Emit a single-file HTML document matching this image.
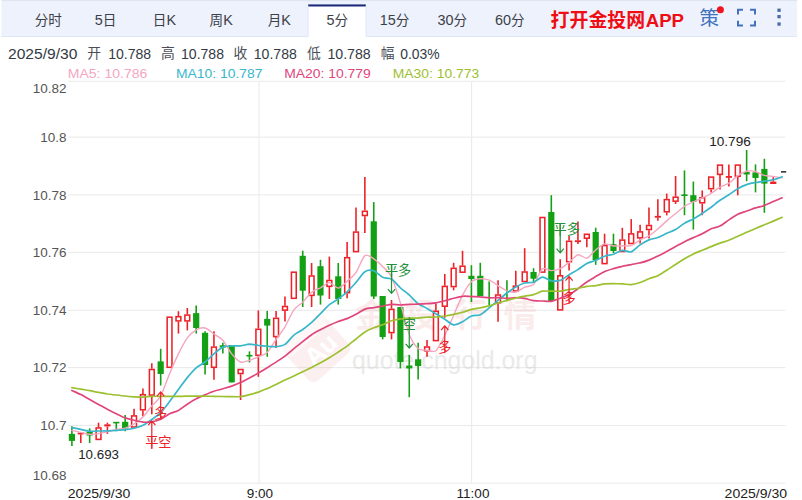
<!DOCTYPE html>
<html lang="zh"><head><meta charset="utf-8"><title>5分 K线</title>
<style>
html,body{margin:0;padding:0;background:#fff;}
body{width:802px;height:500px;overflow:hidden;font-family:"Liberation Sans","Noto Sans CJK SC",sans-serif;}
svg{display:block;font-family:"Liberation Sans","Noto Sans CJK SC",sans-serif;}
</style></head><body>
<svg role="img" aria-label="5分 K线图 MA5 MA10 MA20 MA30" width="802" height="500" viewBox="0 0 802 500">
<rect width="802" height="500" fill="#fff"/>
<rect x="1.4" y="0" width="795.8" height="36.6" fill="#edf2fc"/>
<rect x="1.4" y="0" width="795.8" height="1.1" fill="#dfe5f1"/>
<rect x="1.4" y="36.0" width="795.8" height="0.9" fill="#dde5f3"/>
<rect x="308.2" y="4.6" width="57.6" height="33" fill="#ffffff"/>
<rect x="308.2" y="4.4" width="57.6" height="2.1" fill="#1c2b7c"/>
<rect x="307.8" y="6.4" width="0.8" height="30" fill="#dde5f2"/><rect x="365.6" y="6.4" width="0.8" height="30" fill="#dde5f2"/>
<text x="34.70" y="25.40" font-size="13.6" fill="#3d4047" text-anchor="start" font-weight="normal">分时</text>
<text x="94.79" y="25.40" font-size="14.416" fill="#3d4047" text-anchor="start" font-weight="normal">5</text>
<text x="102.81" y="25.40" font-size="13.6" fill="#3d4047" text-anchor="start" font-weight="normal">日</text>
<text x="152.79" y="25.40" font-size="13.6" fill="#3d4047" text-anchor="start" font-weight="normal">日</text>
<text x="166.39" y="25.40" font-size="14.416" fill="#3d4047" text-anchor="start" font-weight="normal">K</text>
<text x="209.59" y="25.40" font-size="13.6" fill="#3d4047" text-anchor="start" font-weight="normal">周</text>
<text x="223.19" y="25.40" font-size="14.416" fill="#3d4047" text-anchor="start" font-weight="normal">K</text>
<text x="267.69" y="25.40" font-size="13.6" fill="#3d4047" text-anchor="start" font-weight="normal">月</text>
<text x="281.29" y="25.40" font-size="14.416" fill="#3d4047" text-anchor="start" font-weight="normal">K</text>
<text x="326.59" y="25.40" font-size="14.416" fill="#3d4047" text-anchor="start" font-weight="normal">5</text>
<text x="334.61" y="25.40" font-size="13.6" fill="#3d4047" text-anchor="start" font-weight="normal">分</text>
<text x="379.78" y="25.40" font-size="14.416" fill="#3d4047" text-anchor="start" font-weight="normal">15</text>
<text x="395.82" y="25.40" font-size="13.6" fill="#3d4047" text-anchor="start" font-weight="normal">分</text>
<text x="437.58" y="25.40" font-size="14.416" fill="#3d4047" text-anchor="start" font-weight="normal">30</text>
<text x="453.62" y="25.40" font-size="13.6" fill="#3d4047" text-anchor="start" font-weight="normal">分</text>
<text x="494.98" y="25.40" font-size="14.416" fill="#3d4047" text-anchor="start" font-weight="normal">60</text>
<text x="511.02" y="25.40" font-size="13.6" fill="#3d4047" text-anchor="start" font-weight="normal">分</text>
<text x="550.60" y="26.60" font-size="18.9" fill="#f00d14" text-anchor="start" font-weight="bold">打开金投网</text>
<text x="645.80" y="26.60" font-size="18.6" fill="#f00d14" text-anchor="start" font-weight="bold" textLength="38.2" lengthAdjust="spacingAndGlyphs">APP</text>
<text x="699.60" y="25.40" font-size="19.6" fill="#3f72c0" text-anchor="start" font-weight="normal">策</text>
<circle cx="720.4" cy="9.8" r="3.5" fill="#f0141e"/>
<path d="M738 14.6V9.8H743 M750 9.8H755V14.6 M755 20.8V25.6H750 M743 25.6H738V20.8" fill="none" stroke="#4470bd" stroke-width="2"/>
<rect x="777.4" y="8.6" width="3.3" height="3.3" fill="#4b6aa6"/>
<rect x="777.4" y="15.000000000000002" width="3.3" height="3.3" fill="#4b6aa6"/>
<rect x="777.4" y="22.4" width="3.3" height="3.3" fill="#4b6aa6"/>
<text x="8.00" y="58.80" font-size="14" fill="#333a44" text-anchor="start" font-weight="normal" textLength="69.4" lengthAdjust="spacingAndGlyphs">2025/9/30</text>
<text x="87.30" y="58.30" font-size="13.8" fill="#4a4f58" text-anchor="start" font-weight="normal">开</text>
<text x="108.20" y="58.80" font-size="14" fill="#333a44" text-anchor="start" font-weight="normal" textLength="43.0" lengthAdjust="spacingAndGlyphs">10.788</text>
<text x="160.90" y="58.30" font-size="13.8" fill="#4a4f58" text-anchor="start" font-weight="normal">高</text>
<text x="181.00" y="58.80" font-size="14" fill="#333a44" text-anchor="start" font-weight="normal" textLength="43.0" lengthAdjust="spacingAndGlyphs">10.788</text>
<text x="233.50" y="58.30" font-size="13.8" fill="#4a4f58" text-anchor="start" font-weight="normal">收</text>
<text x="253.80" y="58.80" font-size="14" fill="#333a44" text-anchor="start" font-weight="normal" textLength="43.0" lengthAdjust="spacingAndGlyphs">10.788</text>
<text x="307.10" y="58.30" font-size="13.8" fill="#4a4f58" text-anchor="start" font-weight="normal">低</text>
<text x="327.40" y="58.80" font-size="14" fill="#333a44" text-anchor="start" font-weight="normal" textLength="43.3" lengthAdjust="spacingAndGlyphs">10.788</text>
<text x="380.70" y="58.30" font-size="13.8" fill="#4a4f58" text-anchor="start" font-weight="normal">幅</text>
<text x="400.20" y="58.80" font-size="14" fill="#333a44" text-anchor="start" font-weight="normal" textLength="39.4" lengthAdjust="spacingAndGlyphs">0.03%</text>
<text x="67.80" y="77.80" font-size="13.7" fill="#f4a6c1" text-anchor="start" font-weight="normal" textLength="79.5" lengthAdjust="spacingAndGlyphs">MA5: 10.786</text>
<text x="176.00" y="77.80" font-size="13.7" fill="#38b7cb" text-anchor="start" font-weight="normal" textLength="86.4" lengthAdjust="spacingAndGlyphs">MA10: 10.787</text>
<text x="284.20" y="77.80" font-size="13.7" fill="#e0467c" text-anchor="start" font-weight="normal" textLength="86.6" lengthAdjust="spacingAndGlyphs">MA20: 10.779</text>
<text x="392.80" y="77.80" font-size="13.7" fill="#9cc02f" text-anchor="start" font-weight="normal" textLength="86.4" lengthAdjust="spacingAndGlyphs">MA30: 10.773</text>
<rect x="68.0" y="80.75" width="717.5" height="1.1" fill="#ebebeb"/>
<rect x="68.0" y="136.55" width="717.5" height="1.1" fill="#ebebeb"/>
<rect x="68.0" y="194.35" width="717.5" height="1.1" fill="#ebebeb"/>
<rect x="68.0" y="251.75" width="717.5" height="1.1" fill="#ebebeb"/>
<rect x="68.0" y="309.75" width="717.5" height="1.1" fill="#ebebeb"/>
<rect x="68.0" y="367.05" width="717.5" height="1.1" fill="#ebebeb"/>
<rect x="68.0" y="424.95" width="717.5" height="1.1" fill="#ebebeb"/>
<rect x="68.0" y="482.65" width="717.5" height="1.1" fill="#ebebeb"/>
<rect x="258.45" y="81.3" width="1.1" height="402" fill="#ebebeb"/>
<rect x="471.05" y="81.3" width="1.1" height="402" fill="#ebebeb"/>
<text x="66.60" y="93.30" font-size="13.5" fill="#555555" text-anchor="end" font-weight="normal">10.82</text>
<text x="66.60" y="141.80" font-size="13.5" fill="#555555" text-anchor="end" font-weight="normal">10.8</text>
<text x="66.60" y="199.60" font-size="13.5" fill="#555555" text-anchor="end" font-weight="normal">10.78</text>
<text x="66.60" y="257.00" font-size="13.5" fill="#555555" text-anchor="end" font-weight="normal">10.76</text>
<text x="66.60" y="315.00" font-size="13.5" fill="#555555" text-anchor="end" font-weight="normal">10.74</text>
<text x="66.60" y="372.30" font-size="13.5" fill="#555555" text-anchor="end" font-weight="normal">10.72</text>
<text x="66.60" y="430.20" font-size="13.5" fill="#555555" text-anchor="end" font-weight="normal">10.7</text>
<text x="66.60" y="480.10" font-size="13.5" fill="#555555" text-anchor="end" font-weight="normal">10.68</text>
<text x="67.80" y="498.00" font-size="13.5" fill="#222222" text-anchor="start" font-weight="normal" textLength="62.5" lengthAdjust="spacingAndGlyphs">2025/9/30</text>
<text x="259.80" y="498.00" font-size="13.5" fill="#222222" text-anchor="middle" font-weight="normal">9:00</text>
<text x="473.00" y="498.00" font-size="13.5" fill="#222222" text-anchor="middle" font-weight="normal">11:00</text>
<text x="724.60" y="498.00" font-size="13.5" fill="#222222" text-anchor="start" font-weight="normal" textLength="62.5" lengthAdjust="spacingAndGlyphs">2025/9/30</text>
<g opacity="0.135" transform="translate(317,349) rotate(-42)"><rect x="-27" y="-24" width="54" height="48" rx="7" fill="#e79090"/><rect x="-27" y="-24" width="54" height="13" rx="6" fill="#f6caca"/><text x="-15" y="12" font-size="26" font-weight="bold" fill="#fff">Au</text></g>
<text x="355.00" y="326.60" font-size="33" fill="#f0a8a8" opacity="0.21" text-anchor="start" font-weight="bold">金</text>
<text x="404.60" y="326.60" font-size="33" fill="#f0a8a8" opacity="0.21" text-anchor="start" font-weight="bold">投</text>
<text x="454.20" y="326.60" font-size="33" fill="#f0a8a8" opacity="0.21" text-anchor="start" font-weight="bold">行</text>
<text x="503.80" y="326.60" font-size="33" fill="#f0a8a8" opacity="0.21" text-anchor="start" font-weight="bold">情</text>
<text x="352.00" y="369.00" font-size="25" fill="#cfcfcf" text-anchor="start" font-weight="normal" textLength="185.5" lengthAdjust="spacingAndGlyphs" opacity="0.43">quote.cngold.org</text>
<g><path d="M71.90 426.2V445.9" stroke="#14a014" stroke-width="1.6"/><rect x="68.80" y="433.9" width="6.2" height="7.0" fill="#14a014"/><path d="M80.78 434.3V443.0" stroke="#ec2228" stroke-width="1.6"/><rect x="77.68" y="432.6" width="6.2" height="1.8" fill="#ec2228"/><path d="M89.66 428.4V443.0" stroke="#14a014" stroke-width="1.6"/><rect x="86.56" y="431.8" width="6.2" height="3.7" fill="#14a014"/><path d="M98.53 422.7V427.2" stroke="#ec2228" stroke-width="1.6"/><rect x="96.13" y="427.9" width="4.8" height="11.5" fill="#fff" stroke="#ec2228" stroke-width="1.55"/><path d="M107.41 422.7V424.3" stroke="#ec2228" stroke-width="1.6"/><path d="M107.41 426.4V433.9" stroke="#ec2228" stroke-width="1.6"/><rect x="104.31" y="424.3" width="6.2" height="2.1" fill="#ec2228"/><path d="M116.29 422.2V431.2" stroke="#14a014" stroke-width="1.6"/><rect x="113.19" y="421.8" width="6.2" height="1.6" fill="#14a014"/><path d="M125.17 415.0V431.2" stroke="#14a014" stroke-width="1.6"/><rect x="122.07" y="421.8" width="6.2" height="6.6" fill="#14a014"/><path d="M134.05 408.8V415.2" stroke="#ec2228" stroke-width="1.6"/><rect x="131.65" y="415.9" width="4.8" height="11.1" fill="#fff" stroke="#ec2228" stroke-width="1.55"/><path d="M142.92 388.6V394.0" stroke="#ec2228" stroke-width="1.6"/><path d="M142.92 410.5V416.3" stroke="#ec2228" stroke-width="1.6"/><rect x="140.52" y="394.7" width="4.8" height="15.1" fill="#fff" stroke="#ec2228" stroke-width="1.55"/><path d="M151.80 363.2V368.8" stroke="#ec2228" stroke-width="1.6"/><path d="M151.80 395.8V414.2" stroke="#ec2228" stroke-width="1.6"/><rect x="149.40" y="369.5" width="4.8" height="25.6" fill="#fff" stroke="#ec2228" stroke-width="1.55"/><path d="M160.68 348.8V385.5" stroke="#14a014" stroke-width="1.6"/><rect x="157.58" y="361.4" width="6.2" height="12.6" fill="#14a014"/><rect x="167.16" y="317.2" width="4.8" height="50.1" fill="#fff" stroke="#ec2228" stroke-width="1.55"/><path d="M178.44 311.2V316.0" stroke="#ec2228" stroke-width="1.6"/><path d="M178.44 321.6V333.6" stroke="#ec2228" stroke-width="1.6"/><rect x="176.04" y="316.7" width="4.8" height="4.2" fill="#fff" stroke="#ec2228" stroke-width="1.55"/><path d="M187.31 308.0V314.4" stroke="#ec2228" stroke-width="1.6"/><path d="M187.31 321.6V330.4" stroke="#ec2228" stroke-width="1.6"/><rect x="184.91" y="315.1" width="4.8" height="5.8" fill="#fff" stroke="#ec2228" stroke-width="1.55"/><path d="M196.19 305.6V333.6" stroke="#14a014" stroke-width="1.6"/><rect x="193.09" y="313.1" width="6.2" height="14.9" fill="#14a014"/><path d="M205.07 331.2V374.4" stroke="#14a014" stroke-width="1.6"/><rect x="201.97" y="332.8" width="6.2" height="32.2" fill="#14a014"/><path d="M213.95 331.2V346.4" stroke="#ec2228" stroke-width="1.6"/><path d="M213.95 368.0V379.7" stroke="#ec2228" stroke-width="1.6"/><rect x="211.55" y="347.1" width="4.8" height="20.2" fill="#fff" stroke="#ec2228" stroke-width="1.55"/><path d="M222.83 342.8V353.6" stroke="#14a014" stroke-width="1.6"/><rect x="219.73" y="345.3" width="6.2" height="2.2" fill="#14a014"/><path d="M231.70 345.0V382.4" stroke="#14a014" stroke-width="1.6"/><rect x="228.60" y="345.0" width="6.2" height="37.4" fill="#14a014"/><path d="M240.58 374.2V400.0" stroke="#ec2228" stroke-width="1.6"/><rect x="238.18" y="369.5" width="4.8" height="4.0" fill="#fff" stroke="#ec2228" stroke-width="1.55"/><path d="M249.46 351.4V362.4" stroke="#14a014" stroke-width="1.6"/><rect x="246.36" y="354.9" width="6.2" height="1.6" fill="#14a014"/><path d="M258.34 310.4V328.6" stroke="#ec2228" stroke-width="1.6"/><path d="M258.34 356.0V376.8" stroke="#ec2228" stroke-width="1.6"/><rect x="255.94" y="329.3" width="4.8" height="26.0" fill="#fff" stroke="#ec2228" stroke-width="1.55"/><path d="M267.22 310.9V356.8" stroke="#14a014" stroke-width="1.6"/><rect x="264.12" y="318.9" width="6.2" height="6.7" fill="#14a014"/><path d="M276.09 310.9V317.6" stroke="#ec2228" stroke-width="1.6"/><path d="M276.09 337.3V348.0" stroke="#ec2228" stroke-width="1.6"/><rect x="273.69" y="318.3" width="4.8" height="18.3" fill="#fff" stroke="#ec2228" stroke-width="1.55"/><path d="M284.97 296.6V305.8" stroke="#ec2228" stroke-width="1.6"/><path d="M284.97 310.8V321.6" stroke="#ec2228" stroke-width="1.6"/><rect x="282.57" y="306.5" width="4.8" height="3.6" fill="#fff" stroke="#ec2228" stroke-width="1.55"/><rect x="291.45" y="272.2" width="4.8" height="26.1" fill="#fff" stroke="#ec2228" stroke-width="1.55"/><path d="M302.73 250.7V307.0" stroke="#14a014" stroke-width="1.6"/><rect x="299.63" y="255.8" width="6.2" height="34.9" fill="#14a014"/><path d="M311.61 263.0V275.3" stroke="#ec2228" stroke-width="1.6"/><path d="M311.61 296.1V307.0" stroke="#ec2228" stroke-width="1.6"/><rect x="309.21" y="276.0" width="4.8" height="19.4" fill="#fff" stroke="#ec2228" stroke-width="1.55"/><path d="M320.48 259.8V304.6" stroke="#14a014" stroke-width="1.6"/><rect x="317.38" y="266.2" width="6.2" height="29.3" fill="#14a014"/><path d="M329.36 256.6V279.8" stroke="#ec2228" stroke-width="1.6"/><path d="M329.36 287.0V299.0" stroke="#ec2228" stroke-width="1.6"/><rect x="326.96" y="280.5" width="4.8" height="5.8" fill="#fff" stroke="#ec2228" stroke-width="1.55"/><path d="M338.24 263.0V304.6" stroke="#14a014" stroke-width="1.6"/><rect x="335.14" y="276.3" width="6.2" height="22.7" fill="#14a014"/><path d="M347.12 242.0V257.0" stroke="#ec2228" stroke-width="1.6"/><path d="M347.12 293.4V298.2" stroke="#ec2228" stroke-width="1.6"/><rect x="344.72" y="257.7" width="4.8" height="35.0" fill="#fff" stroke="#ec2228" stroke-width="1.55"/><path d="M356.00 207.4V231.4" stroke="#ec2228" stroke-width="1.6"/><rect x="353.60" y="232.1" width="4.8" height="19.5" fill="#fff" stroke="#ec2228" stroke-width="1.55"/><path d="M364.87 177.0V210.6" stroke="#ec2228" stroke-width="1.6"/><path d="M364.87 216.2V233.0" stroke="#ec2228" stroke-width="1.6"/><rect x="362.47" y="211.3" width="4.8" height="4.2" fill="#fff" stroke="#ec2228" stroke-width="1.55"/><path d="M373.75 202.1V299.0" stroke="#14a014" stroke-width="1.6"/><rect x="370.65" y="221.3" width="6.2" height="75.2" fill="#14a014"/><path d="M382.63 296.0V339.4" stroke="#14a014" stroke-width="1.6"/><rect x="379.53" y="296.0" width="6.2" height="41.0" fill="#14a014"/><path d="M391.51 300.0V308.7" stroke="#ec2228" stroke-width="1.6"/><path d="M391.51 333.3V339.4" stroke="#ec2228" stroke-width="1.6"/><rect x="389.11" y="309.4" width="4.8" height="23.2" fill="#fff" stroke="#ec2228" stroke-width="1.55"/><path d="M400.39 307.0V368.4" stroke="#14a014" stroke-width="1.6"/><rect x="397.29" y="307.0" width="6.2" height="55.0" fill="#14a014"/><path d="M409.26 354.8V397.2" stroke="#14a014" stroke-width="1.6"/><rect x="406.16" y="365.5" width="6.2" height="2.9" fill="#14a014"/><path d="M418.14 342.7V379.6" stroke="#14a014" stroke-width="1.6"/><rect x="415.04" y="359.3" width="6.2" height="6.7" fill="#14a014"/><path d="M427.02 340.1V346.3" stroke="#ec2228" stroke-width="1.6"/><path d="M427.02 351.5V356.7" stroke="#ec2228" stroke-width="1.6"/><rect x="424.62" y="347.0" width="4.8" height="3.8" fill="#fff" stroke="#ec2228" stroke-width="1.55"/><path d="M435.90 303.4V310.6" stroke="#ec2228" stroke-width="1.6"/><rect x="433.50" y="311.3" width="4.8" height="29.3" fill="#fff" stroke="#ec2228" stroke-width="1.55"/><path d="M444.78 274.0V285.7" stroke="#ec2228" stroke-width="1.6"/><path d="M444.78 306.9V317.8" stroke="#ec2228" stroke-width="1.6"/><rect x="442.38" y="286.4" width="4.8" height="19.8" fill="#fff" stroke="#ec2228" stroke-width="1.55"/><path d="M453.65 262.8V267.6" stroke="#ec2228" stroke-width="1.6"/><path d="M453.65 287.3V290.3" stroke="#ec2228" stroke-width="1.6"/><rect x="451.25" y="268.3" width="4.8" height="18.3" fill="#fff" stroke="#ec2228" stroke-width="1.55"/><path d="M462.53 250.8V265.5" stroke="#ec2228" stroke-width="1.6"/><rect x="460.13" y="266.2" width="4.8" height="6.0" fill="#fff" stroke="#ec2228" stroke-width="1.55"/><path d="M471.41 265.2V302.0" stroke="#14a014" stroke-width="1.6"/><rect x="468.31" y="275.8" width="6.2" height="3.2" fill="#14a014"/><path d="M480.29 262.8V296.0" stroke="#14a014" stroke-width="1.6"/><rect x="477.19" y="275.8" width="6.2" height="20.2" fill="#14a014"/><path d="M489.17 281.5V305.0" stroke="#14a014" stroke-width="1.6"/><path d="M498.04 280.2V294.3" stroke="#ec2228" stroke-width="1.6"/><path d="M498.04 303.5V321.7" stroke="#ec2228" stroke-width="1.6"/><rect x="495.64" y="295.0" width="4.8" height="7.8" fill="#fff" stroke="#ec2228" stroke-width="1.55"/><path d="M506.92 280.2V301.2" stroke="#14a014" stroke-width="1.6"/><path d="M515.80 270.8V285.4" stroke="#ec2228" stroke-width="1.6"/><rect x="513.40" y="286.1" width="4.8" height="4.9" fill="#fff" stroke="#ec2228" stroke-width="1.55"/><path d="M524.68 248.2V271.3" stroke="#ec2228" stroke-width="1.6"/><rect x="522.28" y="272.0" width="4.8" height="9.5" fill="#fff" stroke="#ec2228" stroke-width="1.55"/><path d="M533.56 268.2V282.6" stroke="#14a014" stroke-width="1.6"/><rect x="530.46" y="272.0" width="6.2" height="6.7" fill="#14a014"/><rect x="540.03" y="217.5" width="4.8" height="54.6" fill="#fff" stroke="#ec2228" stroke-width="1.55"/><path d="M551.31 195.2V301.0" stroke="#14a014" stroke-width="1.6"/><rect x="548.21" y="212.0" width="6.2" height="89.0" fill="#14a014"/><path d="M560.19 259.2V275.1" stroke="#ec2228" stroke-width="1.6"/><rect x="557.79" y="275.8" width="4.8" height="34.1" fill="#fff" stroke="#ec2228" stroke-width="1.55"/><path d="M569.07 236.0V240.6" stroke="#ec2228" stroke-width="1.6"/><path d="M569.07 262.4V270.4" stroke="#ec2228" stroke-width="1.6"/><rect x="566.67" y="241.3" width="4.8" height="20.4" fill="#fff" stroke="#ec2228" stroke-width="1.55"/><path d="M577.95 221.6V240.5" stroke="#ec2228" stroke-width="1.6"/><path d="M577.95 242.0V244.0" stroke="#ec2228" stroke-width="1.6"/><rect x="574.85" y="240.3" width="6.2" height="1.8" fill="#ec2228"/><path d="M586.82 238.9V247.2" stroke="#ec2228" stroke-width="1.6"/><rect x="584.42" y="234.3" width="4.8" height="3.9" fill="#fff" stroke="#ec2228" stroke-width="1.55"/><path d="M595.70 227.7V264.8" stroke="#14a014" stroke-width="1.6"/><rect x="592.60" y="232.0" width="6.2" height="28.0" fill="#14a014"/><path d="M604.58 233.7V244.8" stroke="#ec2228" stroke-width="1.6"/><rect x="602.18" y="245.5" width="4.8" height="18.1" fill="#fff" stroke="#ec2228" stroke-width="1.55"/><path d="M613.46 233.7V253.0" stroke="#14a014" stroke-width="1.6"/><rect x="610.36" y="244.2" width="6.2" height="6.8" fill="#14a014"/><path d="M622.34 227.8V239.4" stroke="#ec2228" stroke-width="1.6"/><rect x="619.94" y="240.1" width="4.8" height="11.4" fill="#fff" stroke="#ec2228" stroke-width="1.55"/><path d="M631.21 219.1V233.2" stroke="#ec2228" stroke-width="1.6"/><rect x="628.81" y="233.9" width="4.8" height="9.6" fill="#fff" stroke="#ec2228" stroke-width="1.55"/><path d="M640.09 224.8V231.2" stroke="#ec2228" stroke-width="1.6"/><path d="M640.09 238.6V243.6" stroke="#ec2228" stroke-width="1.6"/><rect x="637.69" y="231.9" width="4.8" height="6.0" fill="#fff" stroke="#ec2228" stroke-width="1.55"/><path d="M648.97 207.4V224.8" stroke="#ec2228" stroke-width="1.6"/><path d="M648.97 230.2V238.6" stroke="#ec2228" stroke-width="1.6"/><rect x="646.57" y="225.5" width="4.8" height="4.0" fill="#fff" stroke="#ec2228" stroke-width="1.55"/><path d="M657.85 199.2V216.2" stroke="#ec2228" stroke-width="1.6"/><path d="M657.85 217.4V220.7" stroke="#ec2228" stroke-width="1.6"/><rect x="654.75" y="215.9" width="6.2" height="1.8" fill="#ec2228"/><path d="M666.73 193.6V198.9" stroke="#ec2228" stroke-width="1.6"/><path d="M666.73 212.5V215.4" stroke="#ec2228" stroke-width="1.6"/><rect x="664.33" y="199.6" width="4.8" height="12.2" fill="#fff" stroke="#ec2228" stroke-width="1.55"/><path d="M675.60 176.0V196.5" stroke="#ec2228" stroke-width="1.6"/><path d="M675.60 201.9V204.0" stroke="#ec2228" stroke-width="1.6"/><rect x="673.20" y="197.2" width="4.8" height="4.0" fill="#fff" stroke="#ec2228" stroke-width="1.55"/><path d="M684.48 170.4V215.2" stroke="#14a014" stroke-width="1.6"/><rect x="681.38" y="194.4" width="6.2" height="1.6" fill="#14a014"/><path d="M693.36 181.6V229.6" stroke="#14a014" stroke-width="1.6"/><rect x="690.26" y="195.2" width="6.2" height="6.7" fill="#14a014"/><path d="M702.24 190.4V197.1" stroke="#ec2228" stroke-width="1.6"/><path d="M702.24 203.5V215.2" stroke="#ec2228" stroke-width="1.6"/><rect x="699.84" y="197.8" width="4.8" height="5.0" fill="#fff" stroke="#ec2228" stroke-width="1.55"/><path d="M711.12 189.4V192.6" stroke="#ec2228" stroke-width="1.6"/><rect x="708.72" y="177.1" width="4.8" height="11.6" fill="#fff" stroke="#ec2228" stroke-width="1.55"/><path d="M719.99 175.1V189.4" stroke="#ec2228" stroke-width="1.6"/><rect x="717.59" y="165.1" width="4.8" height="9.3" fill="#fff" stroke="#ec2228" stroke-width="1.55"/><path d="M728.87 164.6V176.4" stroke="#ec2228" stroke-width="1.6"/><path d="M728.87 177.3V186.6" stroke="#ec2228" stroke-width="1.6"/><rect x="725.77" y="176.0" width="6.2" height="1.8" fill="#ec2228"/><path d="M737.75 177.0V195.3" stroke="#ec2228" stroke-width="1.6"/><rect x="735.35" y="165.1" width="4.8" height="11.2" fill="#fff" stroke="#ec2228" stroke-width="1.55"/><path d="M746.63 150.0V181.2" stroke="#14a014" stroke-width="1.6"/><rect x="743.53" y="172.0" width="6.2" height="2.5" fill="#14a014"/><path d="M755.51 164.4V192.4" stroke="#14a014" stroke-width="1.6"/><rect x="752.41" y="172.4" width="6.2" height="5.6" fill="#14a014"/><path d="M764.38 158.8V212.8" stroke="#14a014" stroke-width="1.6"/><rect x="761.28" y="168.9" width="6.2" height="14.7" fill="#14a014"/><path d="M773.26 177.2V181.6" stroke="#ec2228" stroke-width="1.6"/><rect x="770.16" y="181.6" width="6.2" height="2.4" fill="#ec2228"/><rect x="781.0" y="171.1" width="5.2" height="1.5" fill="#2a2a2a"/></g>
<g fill="none" stroke-linejoin="round" stroke-linecap="round">
<path d="M71.9 430.4C73.1 430.7 78.4 431.8 80.8 432.4C83.1 432.9 87.3 434.2 89.7 434.3C92.0 434.5 96.2 433.9 98.5 433.6C100.9 433.2 105.0 432.3 107.4 431.8C109.8 431.2 113.9 429.9 116.3 429.4C118.7 428.9 122.8 428.8 125.2 428.1C127.5 427.4 131.7 425.4 134.0 424.0C136.4 422.5 140.6 419.5 142.9 417.1C145.3 414.7 149.4 408.7 151.8 405.9C154.2 403.1 158.3 400.4 160.7 396.1C163.0 391.8 167.2 379.3 169.6 373.7C171.9 368.1 176.1 358.6 178.4 353.9C180.8 349.1 184.9 341.2 187.3 337.9C189.7 334.7 193.8 331.1 196.2 329.8C198.6 328.5 202.7 327.4 205.1 328.0C207.4 328.5 211.6 332.3 213.9 334.0C216.3 335.6 220.5 337.6 222.8 340.3C225.2 342.9 229.3 351.0 231.7 353.9C234.1 356.8 238.2 361.2 240.6 362.0C242.9 362.9 247.1 361.0 249.5 360.3C251.8 359.6 256.0 357.8 258.3 356.8C260.7 355.7 264.8 354.7 267.2 352.4C269.6 350.1 273.7 342.8 276.1 339.4C278.5 336.0 282.6 330.8 285.0 326.8C287.3 322.9 291.5 313.1 293.9 309.8C296.2 306.5 300.4 304.6 302.7 302.2C305.1 299.9 309.2 294.1 311.6 292.2C314.0 290.2 318.1 289.0 320.5 287.8C322.9 286.5 327.0 282.5 329.4 282.6C331.7 282.6 335.9 288.2 338.2 288.1C340.6 287.9 344.8 283.4 347.1 281.3C349.5 279.3 353.6 276.0 356.0 272.5C358.4 269.1 362.5 257.4 364.9 255.6C367.2 253.7 371.4 257.4 373.8 258.9C376.1 260.4 380.3 264.1 382.6 266.5C385.0 268.9 389.1 272.0 391.5 276.8C393.9 281.7 398.0 295.3 400.4 303.0C402.8 310.7 406.9 328.5 409.3 334.5C411.6 340.6 415.8 346.3 418.1 348.4C420.5 350.5 424.7 350.0 427.0 350.3C429.4 350.6 433.5 352.6 435.9 350.7C438.3 348.7 442.4 340.1 444.8 335.4C447.1 330.7 451.3 320.6 453.7 315.2C456.0 309.9 460.2 299.6 462.5 295.1C464.9 290.7 469.0 283.9 471.4 281.7C473.8 279.5 477.9 279.0 480.3 278.8C482.7 278.6 486.8 279.3 489.2 280.2C491.5 281.1 495.7 284.1 498.0 285.6C500.4 287.0 504.6 290.0 506.9 290.9C509.3 291.7 513.4 292.6 515.8 292.1C518.2 291.7 522.3 288.2 524.7 287.2C527.0 286.2 531.2 286.8 533.6 284.3C535.9 281.9 540.1 270.7 542.4 268.8C544.8 267.0 548.9 270.7 551.3 270.6C553.7 270.6 557.8 269.7 560.2 268.6C562.6 267.5 566.7 264.3 569.1 262.4C571.4 260.6 575.6 255.4 577.9 254.8C580.3 254.2 584.5 258.8 586.8 258.2C589.2 257.5 593.3 251.9 595.7 250.0C598.1 248.1 602.2 244.4 604.6 243.9C606.9 243.4 611.1 245.7 613.5 246.0C615.8 246.2 620.0 245.8 622.3 245.8C624.7 245.7 628.8 246.5 631.2 245.7C633.6 244.9 637.7 241.2 640.1 239.9C642.5 238.6 646.6 237.4 649.0 235.9C651.3 234.5 655.5 231.0 657.8 229.0C660.2 227.0 664.4 222.9 666.7 220.9C669.1 218.8 673.2 215.4 675.6 213.5C678.0 211.6 682.1 208.0 684.5 206.4C686.8 204.8 691.0 202.9 693.4 201.8C695.7 200.7 699.9 199.1 702.2 198.0C704.6 196.9 708.7 195.0 711.1 193.5C713.5 192.0 717.6 188.4 720.0 187.1C722.4 185.7 726.5 184.8 728.9 183.2C731.2 181.7 735.4 177.3 737.8 175.7C740.1 174.1 744.3 171.8 746.6 171.2C749.0 170.7 753.1 171.0 755.5 171.5C757.9 172.1 762.0 174.7 764.4 175.4C766.8 176.0 770.9 176.1 773.3 176.4C775.6 176.8 781.0 177.7 782.1 177.9" stroke="#f4a6c1" stroke-width="1.4"/>
<path d="M71.9 427.7C73.1 427.9 78.4 428.9 80.8 429.4C83.1 429.9 87.3 431.0 89.7 431.2C92.0 431.4 96.2 431.1 98.5 431.0C100.9 431.0 105.0 431.0 107.4 430.9C109.8 430.8 113.9 430.5 116.3 430.4C118.7 430.2 122.8 430.0 125.2 429.7C127.5 429.4 131.7 428.8 134.0 428.2C136.4 427.6 140.6 426.5 142.9 425.3C145.3 424.2 149.4 421.1 151.8 419.4C154.2 417.7 158.3 415.1 160.7 412.7C163.0 410.3 167.2 404.6 169.6 401.5C171.9 398.4 176.1 392.5 178.4 389.4C180.8 386.2 184.9 380.5 187.3 377.6C189.7 374.7 193.8 369.9 196.2 367.8C198.6 365.8 202.7 363.9 205.1 362.0C207.4 360.2 211.6 355.8 213.9 353.8C216.3 351.8 220.5 348.1 222.8 347.1C225.2 346.0 229.3 346.1 231.7 345.9C234.1 345.7 238.2 346.1 240.6 345.9C242.9 345.7 247.1 344.2 249.5 344.1C251.8 344.1 256.0 345.1 258.3 345.4C260.7 345.6 264.8 346.1 267.2 346.3C269.6 346.5 273.7 346.9 276.1 346.6C278.5 346.4 282.6 346.0 285.0 344.4C287.3 342.9 291.5 337.1 293.9 335.1C296.2 333.1 300.4 331.2 302.7 329.5C305.1 327.8 309.2 324.4 311.6 322.3C314.0 320.2 318.1 315.9 320.5 313.6C322.9 311.2 327.0 306.6 329.4 304.7C331.7 302.7 335.9 300.7 338.2 298.9C340.6 297.2 344.8 294.0 347.1 291.8C349.5 289.6 353.6 285.0 356.0 282.4C358.4 279.7 362.5 273.2 364.9 271.7C367.2 270.1 371.4 270.0 373.8 270.7C376.1 271.5 380.3 276.2 382.6 277.3C385.0 278.4 389.1 277.7 391.5 279.1C393.9 280.5 398.0 285.6 400.4 287.8C402.8 289.9 406.9 292.9 409.3 295.0C411.6 297.2 415.8 301.9 418.1 303.7C420.5 305.4 424.7 307.0 427.0 308.4C429.4 309.7 433.5 312.3 435.9 313.8C438.3 315.2 442.4 317.7 444.8 319.2C447.1 320.7 451.3 324.5 453.7 324.9C456.0 325.2 460.2 323.0 462.5 321.8C464.9 320.6 469.0 316.9 471.4 316.0C473.8 315.0 477.9 315.8 480.3 314.7C482.7 313.6 486.8 309.7 489.2 307.8C491.5 305.9 495.7 302.4 498.0 300.4C500.4 298.4 504.6 294.8 506.9 293.0C509.3 291.2 513.4 288.2 515.8 286.9C518.2 285.6 522.3 283.6 524.7 283.0C527.0 282.4 531.2 283.1 533.6 282.3C535.9 281.5 540.1 277.4 542.4 277.2C544.8 277.0 548.9 280.3 551.3 280.8C553.7 281.2 557.8 281.2 560.2 280.4C562.6 279.6 566.7 276.3 569.1 274.8C571.4 273.4 575.6 271.1 577.9 269.6C580.3 268.1 584.5 264.7 586.8 263.5C589.2 262.3 593.3 261.3 595.7 260.3C598.1 259.3 602.2 257.1 604.6 256.2C606.9 255.4 611.1 255.0 613.5 254.2C615.8 253.4 620.0 250.6 622.3 250.3C624.7 250.0 628.8 252.6 631.2 251.9C633.6 251.2 637.7 246.5 640.1 244.9C642.5 243.3 646.6 240.9 649.0 239.9C651.3 238.9 655.5 238.3 657.8 237.5C660.2 236.6 664.4 234.4 666.7 233.3C669.1 232.3 673.2 231.0 675.6 229.6C678.0 228.2 682.1 224.6 684.5 223.2C686.8 221.7 691.0 220.2 693.4 218.9C695.7 217.6 699.9 215.0 702.2 213.5C704.6 211.9 708.7 208.9 711.1 207.2C713.5 205.4 717.6 201.9 720.0 200.3C722.4 198.7 726.5 196.4 728.9 194.8C731.2 193.3 735.4 190.1 737.8 188.8C740.1 187.4 744.3 185.4 746.6 184.6C749.0 183.8 753.1 183.0 755.5 182.5C757.9 182.1 762.0 181.6 764.4 181.2C766.8 180.9 770.9 180.4 773.3 179.8C775.6 179.2 781.0 177.2 782.1 176.8" stroke="#38b7cb" stroke-width="1.7"/>
<path d="M71.9 390.4C73.1 391.0 78.4 393.4 80.8 394.6C83.1 395.8 87.3 398.2 89.7 399.5C92.0 400.8 96.2 403.1 98.5 404.4C100.9 405.7 105.0 408.0 107.4 409.3C109.8 410.5 113.9 412.6 116.3 413.7C118.7 414.9 122.8 417.0 125.2 417.9C127.5 418.8 131.7 419.7 134.0 420.3C136.4 420.9 140.6 421.9 142.9 422.1C145.3 422.3 149.4 422.2 151.8 421.8C154.2 421.4 158.3 420.4 160.7 419.3C163.0 418.3 167.2 415.0 169.6 413.8C171.9 412.6 176.1 411.6 178.4 410.4C180.8 409.1 184.9 405.7 187.3 404.2C189.7 402.6 193.8 400.0 196.2 398.8C198.6 397.5 202.7 395.8 205.1 394.8C207.4 393.8 211.6 392.0 213.9 391.2C216.3 390.4 220.5 389.4 222.8 388.7C225.2 388.0 229.3 386.9 231.7 386.1C234.1 385.3 238.2 383.7 240.6 382.6C242.9 381.6 247.1 379.3 249.5 378.0C251.8 376.7 256.0 374.5 258.3 373.1C260.7 371.7 264.8 369.2 267.2 367.7C269.6 366.2 273.7 363.6 276.1 362.1C278.5 360.5 282.6 357.9 285.0 356.1C287.3 354.3 291.5 350.5 293.9 348.6C296.2 346.6 300.4 343.5 302.7 341.7C305.1 339.8 309.2 336.3 311.6 334.7C314.0 333.1 318.1 331.0 320.5 329.7C322.9 328.5 327.0 326.4 329.4 325.3C331.7 324.2 335.9 322.4 338.2 321.5C340.6 320.6 344.8 319.5 347.1 318.6C349.5 317.6 353.6 315.6 356.0 314.3C358.4 313.1 362.5 310.1 364.9 309.1C367.2 308.2 371.4 308.0 373.8 307.6C376.1 307.2 380.3 306.6 382.6 306.2C385.0 305.7 389.1 304.4 391.5 304.3C393.9 304.1 398.0 305.0 400.4 305.0C402.8 305.0 406.9 304.4 409.3 304.3C411.6 304.2 415.8 304.3 418.1 304.2C420.5 304.1 424.7 303.9 427.0 303.7C429.4 303.5 433.5 303.2 435.9 302.8C438.3 302.4 442.4 301.4 444.8 300.8C447.1 300.2 451.3 298.9 453.7 298.3C456.0 297.7 460.2 296.5 462.5 296.3C464.9 296.0 469.0 296.5 471.4 296.6C473.8 296.7 477.9 296.7 480.3 296.9C482.7 297.0 486.8 297.7 489.2 297.8C491.5 297.9 495.7 297.6 498.0 297.7C500.4 297.8 504.6 298.3 506.9 298.3C509.3 298.3 513.4 297.6 515.8 297.7C518.2 297.7 522.3 298.0 524.7 298.4C527.0 298.8 531.2 300.4 533.6 300.7C535.9 301.1 540.1 301.0 542.4 301.0C544.8 301.1 548.9 301.6 551.3 301.3C553.7 300.9 557.8 299.0 560.2 298.2C562.6 297.3 566.7 296.0 569.1 294.8C571.4 293.5 575.6 290.4 577.9 288.7C580.3 287.0 584.5 283.6 586.8 282.0C589.2 280.3 593.3 278.0 595.7 276.6C598.1 275.3 602.2 272.6 604.6 271.6C606.9 270.5 611.1 269.3 613.5 268.6C615.8 267.9 620.0 266.8 622.3 266.3C624.7 265.7 628.8 265.0 631.2 264.6C633.6 264.1 637.7 263.4 640.1 262.8C642.5 262.3 646.6 261.0 649.0 260.1C651.3 259.2 655.5 257.3 657.8 256.1C660.2 255.0 664.4 252.7 666.7 251.4C669.1 250.2 673.2 247.8 675.6 246.6C678.0 245.3 682.1 242.9 684.5 241.7C686.8 240.5 691.0 238.6 693.4 237.6C695.7 236.5 699.9 235.0 702.2 233.8C704.6 232.7 708.7 229.8 711.1 228.7C713.5 227.7 717.6 227.3 720.0 226.1C722.4 224.9 726.5 221.4 728.9 219.9C731.2 218.3 735.4 215.5 737.8 214.3C740.1 213.2 744.3 211.9 746.6 211.0C749.0 210.2 753.1 208.7 755.5 207.9C757.9 207.2 762.0 206.3 764.4 205.4C766.8 204.6 770.9 202.5 773.3 201.5C775.6 200.5 781.0 198.3 782.1 197.8" stroke="#e0467c" stroke-width="1.7"/>
<path d="M71.9 387.7C73.1 387.9 78.4 388.7 80.8 389.1C83.1 389.5 87.3 390.3 89.7 390.7C92.0 391.2 96.2 391.9 98.5 392.4C100.9 392.8 105.0 393.6 107.4 394.0C109.8 394.3 113.9 394.8 116.3 395.0C118.7 395.3 122.8 395.8 125.2 396.0C127.5 396.3 131.7 396.7 134.0 396.9C136.4 397.0 140.6 397.2 142.9 397.1C145.3 397.0 149.4 396.4 151.8 396.3C154.2 396.2 158.3 396.3 160.7 396.3C163.0 396.3 167.2 396.3 169.6 396.3C171.9 396.3 176.1 396.3 178.4 396.3C180.8 396.3 184.9 396.1 187.3 396.0C189.7 396.0 193.8 396.1 196.2 396.1C198.6 396.1 202.7 396.2 205.1 396.2C207.4 396.2 211.6 396.3 213.9 396.3C216.3 396.3 220.5 396.4 222.8 396.5C225.2 396.5 229.3 396.6 231.7 396.6C234.1 396.7 238.2 396.9 240.6 396.6C242.9 396.3 247.1 395.2 249.5 394.6C251.8 394.0 256.0 392.8 258.3 392.1C260.7 391.3 264.8 389.7 267.2 388.6C269.6 387.6 273.7 385.5 276.1 384.4C278.5 383.3 282.6 381.2 285.0 380.1C287.3 379.0 291.5 377.0 293.9 375.9C296.2 374.8 300.4 372.8 302.7 371.7C305.1 370.6 309.2 368.7 311.6 367.5C314.0 366.3 318.1 364.1 320.5 362.8C322.9 361.5 327.0 359.1 329.4 357.7C331.7 356.3 335.9 353.6 338.2 352.1C340.6 350.5 344.8 347.8 347.1 346.1C349.5 344.3 353.6 340.9 356.0 339.0C358.4 337.1 362.5 333.5 364.9 332.0C367.2 330.5 371.4 328.6 373.8 327.7C376.1 326.7 380.3 325.7 382.6 324.8C385.0 323.9 389.1 321.6 391.5 320.8C393.9 320.0 398.0 319.4 400.4 319.0C402.8 318.7 406.9 318.3 409.3 318.2C411.6 318.1 415.8 318.2 418.1 318.1C420.5 317.9 424.7 317.3 427.0 317.2C429.4 317.0 433.5 317.1 435.9 317.0C438.3 316.8 442.4 316.3 444.8 316.0C447.1 315.6 451.3 314.9 453.7 314.4C456.0 313.9 460.2 313.0 462.5 312.3C464.9 311.7 469.0 310.0 471.4 309.4C473.8 308.8 477.9 308.2 480.3 307.8C482.7 307.3 486.8 306.6 489.2 305.9C491.5 305.3 495.7 303.7 498.0 303.0C500.4 302.3 504.6 301.1 506.9 300.4C509.3 299.8 513.4 298.7 515.8 298.1C518.2 297.5 522.3 296.6 524.7 296.2C527.0 295.7 531.2 295.3 533.6 294.6C535.9 294.0 540.1 291.7 542.4 291.2C544.8 290.8 548.9 291.1 551.3 291.1C553.7 291.1 557.8 291.4 560.2 291.2C562.6 291.0 566.7 289.9 569.1 289.5C571.4 289.2 575.6 288.8 577.9 288.4C580.3 287.9 584.5 286.7 586.8 286.3C589.2 286.0 593.3 286.0 595.7 285.7C598.1 285.3 602.2 284.1 604.6 283.8C606.9 283.6 611.1 283.6 613.5 283.6C615.8 283.7 620.0 283.8 622.3 283.9C624.7 284.0 628.8 284.9 631.2 284.7C633.6 284.5 637.7 283.3 640.1 282.5C642.5 281.7 646.6 279.7 649.0 278.8C651.3 277.8 655.5 276.8 657.8 275.7C660.2 274.5 664.4 271.7 666.7 270.2C669.1 268.7 673.2 266.0 675.6 264.5C678.0 263.0 682.1 260.2 684.5 258.8C686.8 257.4 691.0 255.2 693.4 254.0C695.7 252.9 699.9 251.2 702.2 250.2C704.6 249.2 708.7 247.5 711.1 246.6C713.5 245.6 717.6 244.0 720.0 243.1C722.4 242.3 726.5 241.1 728.9 240.2C731.2 239.3 735.4 237.4 737.8 236.3C740.1 235.3 744.3 233.4 746.6 232.3C749.0 231.2 753.1 229.5 755.5 228.5C757.9 227.5 762.0 225.8 764.4 224.8C766.8 223.8 770.9 222.1 773.3 221.1C775.6 220.1 781.0 217.8 782.1 217.3" stroke="#9cc02f" stroke-width="1.7"/>
</g>
<path d="M151.80 421.0V448.5M148.20 425.2L151.80 421.0L155.40 425.2" fill="none" stroke="#ec2228" stroke-width="1.2"/>
<text x="145.20" y="447.40" font-size="13.2" fill="#ec2228" text-anchor="start" font-weight="normal">平空</text>
<path d="M160.68 392.0V419.5M157.08 396.2L160.68 392.0L164.28 396.2" fill="none" stroke="#ec2228" stroke-width="1.2"/>
<text x="154.08" y="418.40" font-size="13.2" fill="#ec2228" text-anchor="start" font-weight="normal">多</text>
<path d="M444.78 325.8V353.3M441.18 330.0L444.78 325.8L448.38 330.0" fill="none" stroke="#ec2228" stroke-width="1.2"/>
<text x="438.18" y="352.20" font-size="13.2" fill="#ec2228" text-anchor="start" font-weight="normal">多</text>
<path d="M569.07 276.5V304.0M565.47 280.7L569.07 276.5L572.67 280.7" fill="none" stroke="#ec2228" stroke-width="1.2"/>
<text x="562.47" y="302.90" font-size="13.2" fill="#ec2228" text-anchor="start" font-weight="normal">多</text>
<path d="M391.51 293.4V264.9M387.91 289.2L391.51 293.4L395.11 289.2" fill="none" stroke="#23913a" stroke-width="1.2"/>
<text x="384.91" y="274.60" font-size="13.2" fill="#23913a" text-anchor="start" font-weight="normal">平多</text>
<path d="M409.26 348.0V319.5M405.66 343.8L409.26 348.0L412.86 343.8" fill="none" stroke="#23913a" stroke-width="1.2"/>
<text x="402.66" y="329.20" font-size="13.2" fill="#23913a" text-anchor="start" font-weight="normal">空</text>
<path d="M560.19 252.8V224.3M556.59 248.6L560.19 252.8L563.79 248.6" fill="none" stroke="#23913a" stroke-width="1.2"/>
<text x="553.59" y="234.00" font-size="13.2" fill="#23913a" text-anchor="start" font-weight="normal">平多</text>
<text x="709.20" y="146.10" font-size="13.5" fill="#222" text-anchor="start" font-weight="normal" textLength="41.6" lengthAdjust="spacingAndGlyphs">10.796</text>
<text x="78.20" y="458.80" font-size="13.5" fill="#222" text-anchor="start" font-weight="normal" textLength="40.8" lengthAdjust="spacingAndGlyphs">10.693</text>
</svg>
</body></html>
